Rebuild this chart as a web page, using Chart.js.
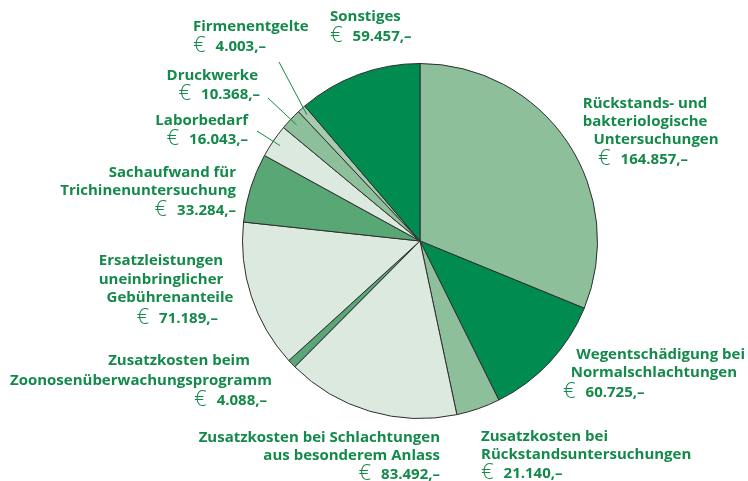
<!DOCTYPE html>
<html>
<head>
<meta charset="utf-8">
<script src="https://cdn.jsdelivr.net/npm/chart.js@4.4.1/dist/chart.umd.min.js"></script>
<style>
  html, body { margin: 0; padding: 0; background: #fff; }
  #wrap { width: 748px; height: 481px; }
</style>
</head>
<body>
<div id="wrap"><canvas id="pie"></canvas></div>
<script>
// slices, clockwise from 12 o'clock
const categories = [
  ["Rückstands- und", "bakteriologische", "Untersuchungen"],
  ["Wegentschädigung bei", "Normalschlachtungen"],
  ["Zusatzkosten bei", "Rückstandsuntersuchungen"],
  ["Zusatzkosten bei Schlachtungen", "aus besonderem Anlass"],
  ["Zusatzkosten beim", "Zoonosenüberwachungsprogramm"],
  ["Ersatzleistungen", "uneinbringlicher", "Gebührenanteile"],
  ["Sachaufwand für", "Trichinenuntersuchung"],
  ["Laborbedarf"],
  ["Druckwerke"],
  ["Firmenentgelte"],
  ["Sonstiges"]
];
const values = [164857, 60725, 21140, 83492, 4088, 71189, 33284, 16043, 10368, 4003, 59457];

const DARK = "#008c50", LIGHT = "#8ebf9b", PALE = "#dce9df", MID = "#5aa776", SOFT = "#a6cbb0";
const sliceColors = [LIGHT, DARK, LIGHT, PALE, MID, PALE, MID, PALE, LIGHT, SOFT, DARK];

// text placement: one [x, y, align] per line, last line is the euro amount
const labelLayout = [
  [[645, 104, "center"], [645, 122, "center"], [656, 140, "center"], [598, 159, "left"]],
  [[745, 355, "right"], [737, 373, "right"], [563, 392, "left"]],
  [[481, 437, "left"], [481, 455, "left"], [481, 473, "left"]],
  [[440, 438, "right"], [440, 456, "right"], [440, 474, "right"]],
  [[179, 361, "center"], [141, 381, "center"], [267, 400, "right"]],
  [[161, 261, "center"], [161, 280, "center"], [170, 298, "center"], [218, 318, "right"]],
  [[236, 173, "right"], [236, 191, "right"], [236, 210, "right"]],
  [[248, 121, "right"], [248, 139, "right"]],
  [[258, 76, "right"], [260, 94, "right"]],
  [[193, 27, "left"], [193, 46, "left"]],
  [[330, 17, "left"], [330, 36, "left"]]
];
// leader lines: slice index -> outer end
const leaders = { 7: [257, 131], 8: [268, 98], 9: [279, 62] };

const TEXT = "#138a4a";
const FONT = "'Open Sans', 'DejaVu Sans', sans-serif";

function euro(v) {
  return String(v).replace(/\B(?=(\d{3})+(?!\d))/g, ".") + ",–";
}

const labelPlugin = {
  id: "pieLabels",
  afterDraw(chart) {
    const ctx = chart.ctx;
    const arcs = chart.getDatasetMeta(0).data;
    ctx.save();
    // leader lines
    ctx.strokeStyle = TEXT;
    ctx.lineWidth = 1;
    Object.keys(leaders).forEach((k) => {
      const a = arcs[k];
      const mid = (a.startAngle + a.endAngle) / 2;
      const r = a.outerRadius - 8;
      ctx.beginPath();
      ctx.moveTo(a.x + Math.cos(mid) * r, a.y + Math.sin(mid) * r);
      ctx.lineTo(leaders[k][0], leaders[k][1]);
      ctx.stroke();
    });
    // labels
    ctx.fillStyle = TEXT;
    ctx.textBaseline = "middle";
    categories.forEach((lines, i) => {
      const pos = labelLayout[i];
      lines.forEach((t, j) => {
        ctx.font = "700 15px " + FONT;
        ctx.textAlign = pos[j][2];
        ctx.fillText(t, pos[j][0], pos[j][1]);
      });
      // euro line: thin sign + bold amount
      const p = pos[lines.length];
      const num = euro(values[i]);
      ctx.font = "700 15px " + FONT;
      const wn = ctx.measureText(num).width;
      ctx.font = "300 22px " + FONT;
      const we = ctx.measureText("€").width;
      const gap = 10;
      const total = we + gap + wn;
      let x0 = p[0];
      if (p[2] === "right") x0 = p[0] - total;
      else if (p[2] === "center") x0 = p[0] - total / 2;
      ctx.textAlign = "left";
      ctx.fillText("€", x0, p[1]);
      ctx.font = "700 15px " + FONT;
      ctx.fillText(num, x0 + we + gap, p[1] + 1);
    });
    ctx.restore();
  }
};

new Chart(document.getElementById("pie"), {
  type: "pie",
  data: {
    labels: categories.map((l) => l.join(" ")),
    datasets: [{
      data: values,
      backgroundColor: sliceColors,
      borderColor: "#2e2e2e",
      borderWidth: 1
    }]
  },
  options: {
    responsive: true,
    maintainAspectRatio: false,
    animation: false,
    layout: { padding: { top: 63, bottom: 62, left: 242, right: 150 } },
    plugins: {
      legend: { display: false },
      tooltip: { enabled: false }
    }
  },
  plugins: [labelPlugin]
});
</script>
</body>
</html>
